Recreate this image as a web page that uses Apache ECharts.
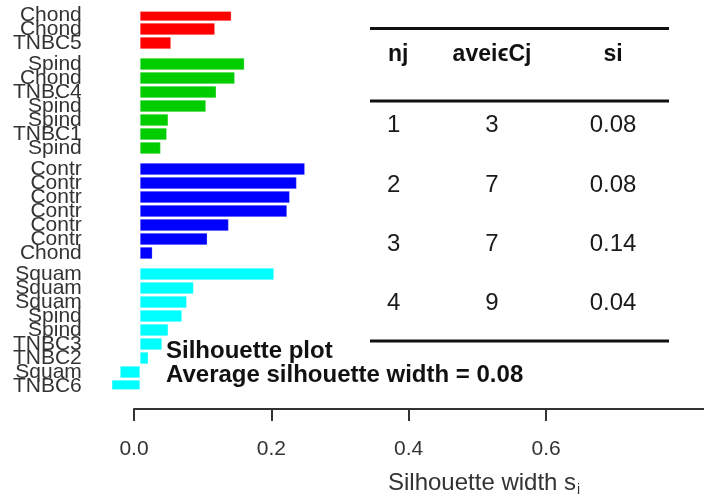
<!DOCTYPE html>
<html>
<head>
<meta charset="utf-8">
<script src="https://cdn.jsdelivr.net/npm/echarts@6/dist/echarts.min.js"></script>
<style>
  html, body { margin: 0; padding: 0; background: #fff; }
  #chart { width: 704px; height: 502px; }
</style>
</head>
<body>
<div id="chart"></div>
<script>
// Silhouette widths per sample, grouped by cluster (top to bottom)
const clusterColors = ['#FF0000', '#00CD00', '#0000FF', '#00FFFF'];
const cluster1Labels = ['Chond', 'Chond', 'TNBC5'];
const cluster1Widths = [0.133, 0.109, 0.045];
const cluster2Labels = ['Spind', 'Chond', 'TNBC4', 'Spind', 'Spind', 'TNBC1', 'Spind'];
const cluster2Widths = [0.152, 0.138, 0.111, 0.096, 0.041, 0.039, 0.030];
const cluster3Labels = ['Contr', 'Contr', 'Contr', 'Contr', 'Contr', 'Contr', 'Chond'];
const cluster3Widths = [0.240, 0.228, 0.218, 0.214, 0.129, 0.098, 0.018];
const cluster4Labels = ['Squam', 'Squam', 'Squam', 'Spind', 'Spind', 'TNBC3', 'TNBC2', 'Squam', 'TNBC6'];
const cluster4Widths = [0.195, 0.078, 0.068, 0.061, 0.041, 0.032, 0.012, -0.029, -0.041];

const axisTicks = [0, 0.2, 0.4, 0.6];

// Summary table
const tableHeader = ['nj', 'avei\u03F5Cj', 'si'];
const tableNj = [1, 2, 3, 4];
const tableAve = [3, 7, 7, 9];
const tableSi = ['0.08', '0.08', '0.14', '0.04'];
const averageWidth = '0.08';

const clusterLabels = [cluster1Labels, cluster2Labels, cluster3Labels, cluster4Labels];
const clusterWidths = [cluster1Widths, cluster2Widths, cluster3Widths, cluster4Widths];

// Each sample takes two half-slots; a cluster break adds one more half-slot.
const slots = [];
const barData = [];
clusterLabels.forEach((names, c) => {
  if (c > 0) { slots.push('', ''); barData.push('-', '-'); }
  names.forEach((name, j) => {
    if (j > 0) { slots.push(''); barData.push('-'); }
    slots.push(name);
    barData.push({ value: clusterWidths[c][j], itemStyle: { color: clusterColors[c] } });
  });
});

const slotPx = 7;
const pxPerUnit = 686.7;
const barMin = -0.06, barMax = 0.82;
const zeroX = 140;
const gridLeft = zeroX + barMin * pxPerUnit;

const font = '"Liberation Sans", Arial, Helvetica, sans-serif';

// Table graphics
const tableGraphics = [];
[28.5, 101, 341].forEach(y => {
  tableGraphics.push({
    type: 'line', shape: { x1: 370, y1: y, x2: 669, y2: y },
    style: { stroke: '#111', lineWidth: 3 }, silent: true
  });
});
const colX = [387, 492, 613];
const colAlign = ['left', 'center', 'center'];
tableHeader.forEach((h, i) => {
  tableGraphics.push({
    type: 'text', x: colX[i] + (i === 0 ? 1 : 0), y: 55,
    style: { text: h, font: 'bold 23px ' + font, fill: '#111', textAlign: colAlign[i], textVerticalAlign: 'middle' }
  });
});
const rowY = [125, 185, 244, 303];
tableNj.forEach((n, r) => {
  [String(n), String(tableAve[r]), tableSi[r]].forEach((t, i) => {
    tableGraphics.push({
      type: 'text', x: colX[i], y: rowY[r],
      style: { text: t, font: '24px ' + font, fill: '#1a1a1a', textAlign: colAlign[i], textVerticalAlign: 'middle' }
    });
  });
});

const chart = echarts.init(document.getElementById('chart'), null, { renderer: 'canvas' });
chart.setOption({
  animation: false,
  backgroundColor: '#fff',
  grid: [
    { left: gridLeft, top: 11.5, width: (barMax - barMin) * pxPerUnit, height: slots.length * slotPx },
    { left: 134, top: 399, width: 570, height: 10 }
  ],
  xAxis: [
    { gridIndex: 0, type: 'value', min: barMin, max: barMax, show: false },
    {
      gridIndex: 1, type: 'value', min: 0, max: 0.83, position: 'bottom',
      axisLine: { show: true, lineStyle: { color: '#333', width: 2 } },
      axisTick: { show: true, length: 12, customValues: axisTicks, lineStyle: { color: '#333', width: 2 } },
      axisLabel: {
        customValues: axisTicks, margin: 30, fontSize: 21, color: '#333', fontFamily: font,
        formatter: v => v.toFixed(1)
      },
      splitLine: { show: false }
    }
  ],
  yAxis: [
    {
      gridIndex: 0, type: 'category', data: slots, inverse: true,
      axisLine: { show: false }, axisTick: { show: false },
      axisLabel: { interval: 0, fontSize: 21, color: '#333', fontFamily: font, margin: 17 }
    },
    { gridIndex: 1, type: 'value', show: false }
  ],
  series: [
    {
      type: 'bar', xAxisIndex: 0, yAxisIndex: 0,
      data: barData, barWidth: 12,
      itemStyle: { borderColor: 'rgba(255,255,255,0.5)', borderWidth: 0.5 }
    }
  ],
  graphic: [
    ...tableGraphics,
    {
      type: 'text', x: 166, y: 351,
      style: { text: 'Silhouette plot', font: 'bold 24px ' + font, fill: '#111', textVerticalAlign: 'middle' }
    },
    {
      type: 'text', x: 166, y: 375,
      style: { text: 'Average silhouette width = ' + averageWidth, font: 'bold 24px ' + font, fill: '#111', textVerticalAlign: 'middle' }
    },
    {
      type: 'text', x: 388, y: 483,
      style: {
        text: 'Silhouette width s{sub|i}', font: '24px ' + font, fill: '#333', textVerticalAlign: 'middle',
        rich: { sub: { fontSize: 14, fontFamily: font, fill: '#333', padding: [15, 0, 0, 1] } }
      }
    }
  ]
});
</script>
</body>
</html>
